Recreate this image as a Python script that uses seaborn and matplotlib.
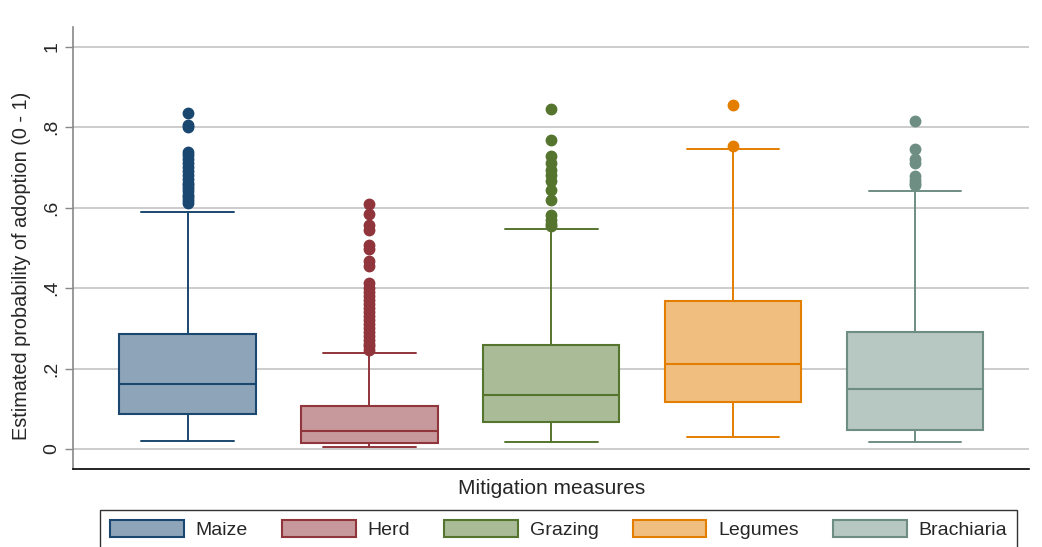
import numpy as np
import matplotlib
matplotlib.use('Agg')
import matplotlib.pyplot as plt
import matplotlib.patches as mpatches
import seaborn as sns

sns.set_style('white')
plt.rcParams['font.family'] = ['Liberation Sans', 'DejaVu Sans']

# Summary values
measures = ['Maize', 'Herd', 'Grazing', 'Legumes', 'Brachiaria']
q1 = [0.087, 0.016, 0.068, 0.116, 0.048]
median = [0.162, 0.044, 0.135, 0.211, 0.150]
q3 = [0.287, 0.106, 0.259, 0.369, 0.291]
whis_lo = [0.021, 0.004, 0.018, 0.031, 0.017]
whis_hi = [0.589, 0.238, 0.547, 0.746, 0.641]

fliers_maize = [0.611, 0.618, 0.625, 0.632, 0.640, 0.648, 0.655, 0.662, 0.670,
                0.680, 0.690, 0.700, 0.710, 0.720, 0.730, 0.739, 0.800, 0.805, 0.835]
fliers_herd = [0.247, 0.255, 0.262, 0.270, 0.280, 0.290, 0.300, 0.310, 0.320,
               0.330, 0.340, 0.350, 0.360, 0.370, 0.380, 0.390, 0.400, 0.412,
               0.454, 0.466, 0.496, 0.507, 0.545, 0.557, 0.584, 0.609]
fliers_grazing = [0.553, 0.560, 0.570, 0.582, 0.619, 0.644, 0.665, 0.680, 0.694,
                  0.710, 0.729, 0.768, 0.845]
fliers_legumes = [0.754, 0.855]
fliers_brachiaria = [0.656, 0.662, 0.669, 0.679, 0.710, 0.720, 0.745, 0.815]
fliers = [fliers_maize, fliers_herd, fliers_grazing, fliers_legumes, fliers_brachiaria]

edge_colors = ['#1a476f', '#90353b', '#55752f', '#e37e00', '#6e8e84']
fill_colors = ['#8ea4b8', '#c8999c', '#aabc97', '#f0bf80', '#b7c7c1']

yticks = [0, 0.2, 0.4, 0.6, 0.8, 1]
yticklabels = ['0', '.2', '.4', '.6', '.8', '1']

fig = plt.figure(figsize=(10.42, 5.47), dpi=100)
ax = fig.add_axes([0.070, 0.143, 0.918, 0.808])

for i in range(len(measures)):
    st = [dict(med=median[i], q1=q1[i], q3=q3[i], whislo=whis_lo[i],
               whishi=whis_hi[i], fliers=fliers[i], label=measures[i])]
    ec = edge_colors[i]
    ax.bxp(st, positions=[i], widths=0.75, capwidths=0.51, patch_artist=True,
           showfliers=True,
           boxprops=dict(facecolor=fill_colors[i], edgecolor=ec, linewidth=1.5),
           medianprops=dict(color=ec, linewidth=1.5),
           whiskerprops=dict(color=ec, linewidth=1.4),
           capprops=dict(color=ec, linewidth=1.4),
           flierprops=dict(marker='o', markerfacecolor=ec, markeredgecolor=ec,
                           markersize=7.5, linestyle='none'))

ax.set_xlim(-0.63, 4.63)
ax.set_ylim(-0.049, 1.049)
ax.set_xticks([])
ax.set_yticks(yticks)
ax.set_yticklabels(yticklabels)
ax.tick_params(axis='y', labelrotation=90, length=6, width=1, color='#888888',
               labelsize=14, pad=3, left=True)
for lab in ax.get_yticklabels():
    lab.set_va('center')
ax.yaxis.grid(True, color='#c8c8c8', linewidth=1.3)
ax.set_axisbelow(True)

for s in ['top', 'right']:
    ax.spines[s].set_visible(False)
ax.spines['left'].set_color('#888888')
ax.spines['left'].set_linewidth(1.2)
ax.spines['bottom'].set_color('black')
ax.spines['bottom'].set_linewidth(1.2)

ax.set_ylabel('Estimated probability of adoption (0 - 1)', fontsize=14.3)
ax.yaxis.set_label_coords(-0.044, 0.459)
ax.set_xlabel('Mitigation measures', fontsize=15, labelpad=7)

handles = [mpatches.Patch(facecolor=fill_colors[i], edgecolor=edge_colors[i],
                          linewidth=1.5, label=measures[i]) for i in range(len(measures))]
leg = fig.legend(handles=handles, loc='upper center', bbox_to_anchor=(0.536, 0.068),
                 ncol=5, fontsize=14, frameon=True, fancybox=False,
                 handlelength=3.8, handleheight=1.0, columnspacing=1.75,
                 handletextpad=0.6, borderpad=0.5, borderaxespad=0,
                 edgecolor='black')
leg.get_frame().set_linewidth(1.0)

fig.savefig('out.png', dpi=100)
